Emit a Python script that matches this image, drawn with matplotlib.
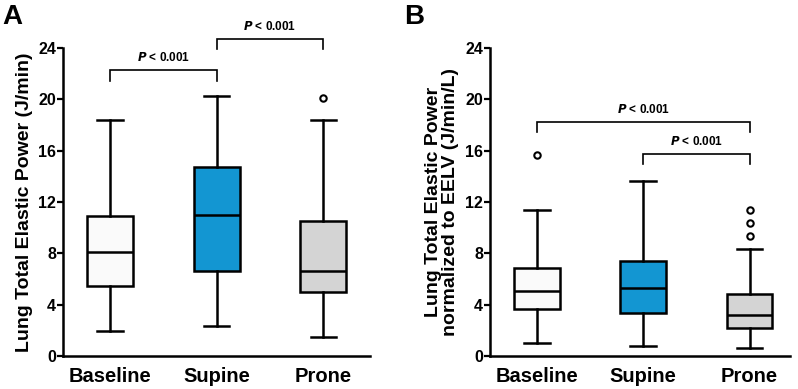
import matplotlib
matplotlib.use("Agg")
import matplotlib.pyplot as plt

plt.rcParams['font.family'] = ['Liberation Sans', 'DejaVu Sans']
plt.rcParams['font.weight'] = 'bold'

categories = ["Baseline", "Supine", "Prone"]
colors = ["#fafafa", "#1396d2", "#d4d4d4"]

# Panel A: whislo, q1, median, q3, whishi, outliers
a_whislo = [1.98, 2.37, 1.46]
a_q1 = [5.46, 6.63, 4.97]
a_med = [8.09, 10.95, 6.63]
a_q3 = [10.92, 14.69, 10.53]
a_whishi = [18.41, 20.28, 18.41]
a_fliers = [[], [], [20.1]]

# Panel B
b_whislo = [1.04, 0.81, 0.65]
b_q1 = [3.64, 3.38, 2.16]
b_med = [5.07, 5.33, 3.2]
b_q3 = [6.84, 7.41, 4.84]
b_whishi = [11.36, 13.6, 8.35]
b_fliers = [[15.68], [], [9.36, 10.37, 11.34]]

yticks = [0, 4, 8, 12, 16, 20, 24]

# brackets: (i, j, y, label)
a_brackets = [(0, 1, 22.26, "< 0.001"), (1, 2, 24.73, "< 0.001")]
b_brackets = [(0, 2, 18.23, "< 0.001"), (1, 2, 15.76, "< 0.001")]

fig = plt.figure(figsize=(7.98, 3.89), dpi=100)
axA = fig.add_axes([0.079, 0.0848, 0.385, 0.792])
axB = fig.add_axes([0.614, 0.0848, 0.376, 0.792])


def draw(ax, wlo, q1, med, q3, whi, fl, brackets, ylabel, xmax):
    stats = []
    for k in range(3):
        stats.append(dict(whislo=wlo[k], q1=q1[k], med=med[k], q3=q3[k],
                          whishi=whi[k], fliers=fl[k], label=categories[k]))
    bp = ax.bxp(stats, positions=[1, 2, 3], widths=0.43, patch_artist=True,
                boxprops=dict(linewidth=1.8, edgecolor='black'),
                medianprops=dict(color='black', linewidth=1.8),
                whiskerprops=dict(color='black', linewidth=1.8),
                capprops=dict(color='black', linewidth=1.8),
                capwidths=0.24,
                flierprops=dict(marker='o', markerfacecolor='white',
                                markeredgecolor='black', markersize=4.6,
                                markeredgewidth=1.5))
    for patch, c in zip(bp['boxes'], colors):
        patch.set_facecolor(c)
    ax.set_ylim(0, 24)
    ax.set_xlim(0.56, xmax)
    ax.set_yticks(yticks)
    ax.set_yticklabels([str(t) for t in yticks], fontsize=11.5, fontweight='bold')
    ax.set_xticks([1, 2, 3])
    ax.set_xticklabels(categories, fontsize=14.5, fontweight='bold')
    ax.tick_params(axis='x', length=0, pad=8)
    ax.tick_params(axis='y', length=4, width=1.6, pad=1, direction='out')
    for s in ['top', 'right']:
        ax.spines[s].set_visible(False)
    for s in ['left', 'bottom']:
        ax.spines[s].set_linewidth(1.8)
    ax.set_ylabel(ylabel, fontsize=14, fontweight='bold', labelpad=4,
                  linespacing=1.05)
    for i, j, y, lab in brackets:
        x1, x2 = i + 1, j + 1
        ax.plot([x1, x1, x2, x2], [y - 0.8, y, y, y - 0.8], color='black',
                lw=1.2, clip_on=False, solid_joinstyle='miter')
        ax.text((x1 + x2) / 2, y + 0.45, r"$\bf{\it{P}}$ " + lab, ha='center',
                va='bottom', fontsize=8.5, fontweight='bold', clip_on=False)


draw(axA, a_whislo, a_q1, a_med, a_q3, a_whishi, a_fliers, a_brackets,
     "Lung Total Elastic Power (J/min)", 3.44)
draw(axB, b_whislo, b_q1, b_med, b_q3, b_whishi, b_fliers, b_brackets,
     "Lung Total Elastic Power\nnormalized to EELV (J/min/L)", 3.38)

fig.text(0.003, 0.99, "A", fontsize=20, fontweight='bold', va='top', ha='left')
fig.text(0.506, 0.99, "B", fontsize=20, fontweight='bold', va='top', ha='left')

fig.savefig("out.png", dpi=100)
